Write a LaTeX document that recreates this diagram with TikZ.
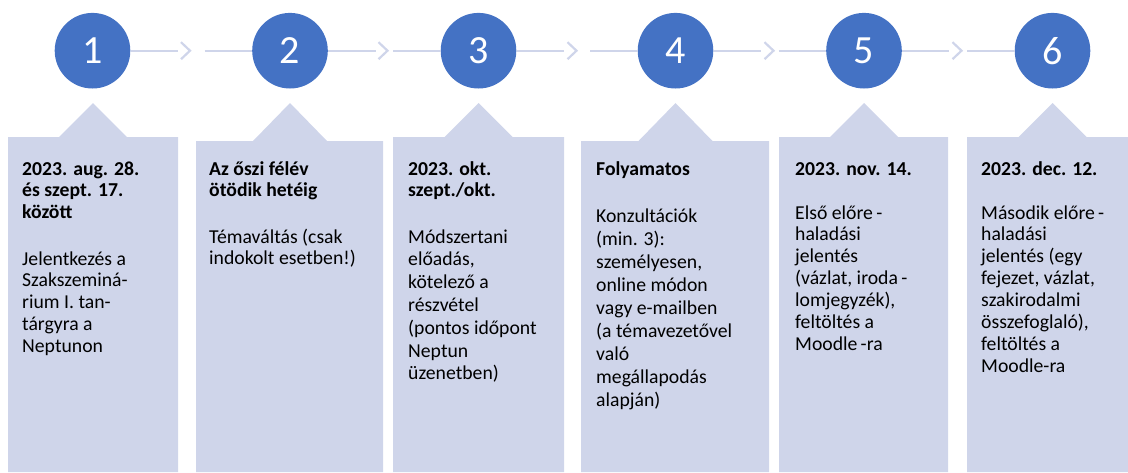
\documentclass[tikz,border=0pt]{standalone}
\usepackage{fontspec}
\setmainfont{Carlito}
\definecolor{cblue}{HTML}{4472C4}
\definecolor{clight}{HTML}{CFD5EA}
\begin{document}
\begin{tikzpicture}[x=1pt,y=-1pt,
  stepcirc/.style={circle, fill=cblue, text=white, minimum size=75.6pt, inner sep=0pt, font=\fontsize{40}{48}\selectfont},
  conn/.style={draw=clight, line width=2.2pt},
  chev/.style={draw=clight, line width=2.2pt, line join=miter},
  panel/.style={fill=clight},
  head/.style={anchor=base west, inner sep=0pt, font=\bfseries\fontsize{19.7}{21.8}\selectfont},
  body/.style={anchor=base west, inner sep=0pt, font=\fontsize{19.7}{#1}\selectfont},
  body/.default=21.9]
\useasboundingbox (0,0) rectangle (1128,472);

% panels with pointers
\fill[panel] (8,472) |- (59,137) -- (93,103) -- (127,137) -| (178,472) -- cycle;
\fill[panel] (196,472) |- (253,141) -- (290,103) -- (327,141) -| (383,472) -- cycle;
\fill[panel] (393,472) |- (444.5,137) -- (478.5,103) -- (512.5,137) -| (564,472) -- cycle;
\fill[panel] (581,472) |- (638.5,141) -- (675.5,103) -- (712.5,141) -| (769,472) -- cycle;
\fill[panel] (779,472) |- (830,137) -- (864,103) -- (898,137) -| (948,472) -- cycle;
\fill[panel] (967,472) |- (1018.5,137) -- (1052.5,103) -- (1086.5,137) -| (1128,472) -- cycle;

% circles
\node[stepcirc] (c1) at (92.5,50.7) {1};
\node[stepcirc] (c2) at (290,50.7) {2};
\node[stepcirc] (c3) at (478.5,50.7) {3};
\node[stepcirc] (c4) at (675.5,50.7) {4};
\node[stepcirc] (c5) at (864,50.7) {5};
\node[stepcirc] (c6) at (1052.5,50.7) {6};

% connector coordinates
\coordinate (e1) at (178,50.7);   \coordinate (t1) at (190,50.7);   \coordinate (s2) at (204.5,50.7);
\coordinate (e2) at (375.5,50.7); \coordinate (t2) at (387.5,50.7); \coordinate (s3) at (393,50.7);
\coordinate (e3) at (564,50.7);   \coordinate (t3) at (576.5,50.7); \coordinate (s4) at (590,50.7);
\coordinate (e4) at (761,50.7);   \coordinate (t4) at (773.5,50.7); \coordinate (s5) at (778.5,50.7);
\coordinate (e5) at (949,50.7);   \coordinate (t5) at (961.5,50.7); \coordinate (s6) at (967,50.7);

\foreach \i/\j in {1/2,2/3,3/4,4/5,5/6}{
  \draw[conn] (c\i) -- (e\i);
  \draw[chev] (t\i) ++(-9,-8.5) -- (t\i) -- ++(-9,8.5);
  \draw[conn] (s\j) -- (c\j);
}

% texts
\node[head] (h1) at (22,175) {\parbox[t]{155pt}{\raggedright 2023. aug. 28.\\és szept. 17.\\között}};
\node[body] (b1) at (22,265) {\parbox[t]{155pt}{\raggedright Jelentkezés a\\Szakszeminá-\\rium I. tan-\\tárgyra a\\Neptunon}};

\node[head] (h2) at (209,175) {\parbox[t]{170pt}{\raggedright Az őszi félév\\ötödik hetéig}};
\node[body] (b2) at (209,243) {\parbox[t]{170pt}{\raggedright Témaváltás (csak\\indokolt esetben!)}};

\node[head] (h3) at (408,175) {\parbox[t]{155pt}{\raggedright 2023. okt.\\szept./okt.}};
\node[body=22.8] (b3) at (408,243) {\parbox[t]{155pt}{\raggedright Módszertani\\előadás,\\kötelező a\\részvétel\\(pontos időpont\\Neptun\\üzenetben)}};

\node[head] (h4) at (596,175) {\parbox[t]{170pt}{\raggedright Folyamatos}};
\node[body=23.0] (b4) at (596,222) {\parbox[t]{170pt}{\raggedright Konzultációk\\(min. 3):\\személyesen,\\online módon\\vagy e-mailben\\(a témavezetővel\\való\\megállapodás\\alapján)}};

\node[head] (h5) at (795,175) {\parbox[t]{150pt}{\raggedright 2023. nov. 14.}};
\node[body] (b5) at (795,219) {\parbox[t]{150pt}{\raggedright Első előre\,-\\haladási\\jelentés\\(vázlat, iroda\,-\\lomjegyzék),\\feltöltés a\\Moodle\,-ra}};

\node[head] (h6) at (981,175) {\parbox[t]{145pt}{\raggedright 2023. dec. 12.}};
\node[body] (b6) at (981,219) {\parbox[t]{145pt}{\raggedright Második előre\,-\\haladási\\jelentés (egy\\fejezet, vázlat,\\szakirodalmi\\összefoglaló),\\feltöltés a\\Moodle-ra}};
\end{tikzpicture}
\end{document}
